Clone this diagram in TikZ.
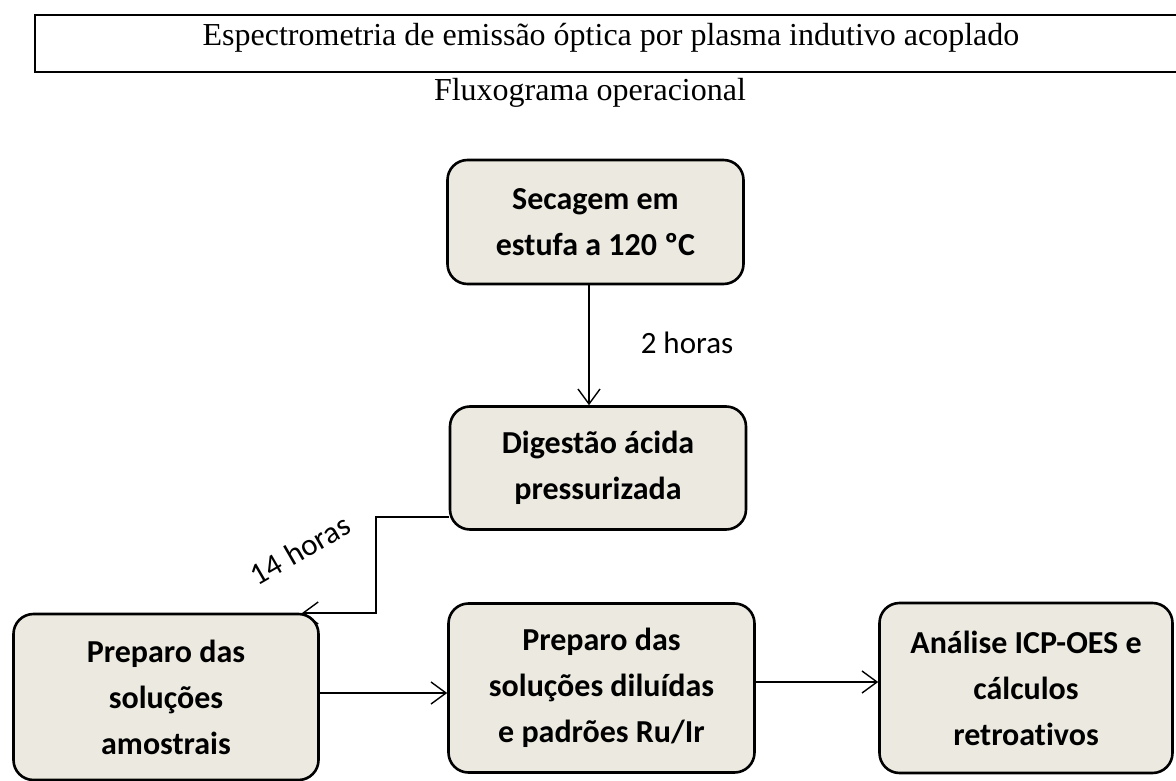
\documentclass[tikz,border=0pt]{standalone}
\usepackage{fontspec}
\setmainfont{Liberation Serif}
\newfontfamily\calibri[Ligatures=NoCommon]{Carlito}
\usetikzlibrary{arrows.meta}

\begin{document}
\begin{tikzpicture}[x=1pt,y=-1pt,
    etapa/.style={draw,line width=2.6pt,rounded corners=20pt,fill=boxfill,
      align=center,inner sep=0pt,
      font=\calibri\bfseries\fontsize{32}{46}\selectfont},
    seta/.style={line width=1.4pt,-{Straight Barb[length=15pt,width=22pt,line width=1.4pt]}},
    tempo/.style={font=\calibri\fontsize{31}{37}\selectfont,inner sep=0pt}]
      \definecolor{boxfill}{HTML}{ECEAE0}
      \clip (0,0) rectangle (1176,781) ;
      \draw[line width=2.2pt] (35,15) rectangle (1200,72) ;
      \node[font=\fontsize{32}{38}\selectfont] (titulo) at (611,38)
        {Espectrometria de emissão óptica por plasma indutivo acoplado} ;
      \node[font=\fontsize{32}{38}\selectfont] (sub) at (590,93) {Fluxograma operacional} ;
      \node[etapa,minimum width=296pt,minimum height=124pt] (sec) at (595.5,222)
        {Secagem em\\estufa a 120 ºC} ;
      \node[etapa,minimum width=296pt,minimum height=123pt] (dig) at (598,468)
        {Digestão ácida\\pressurizada} ;
      \node[etapa,minimum width=305pt,minimum height=166pt] (amo) at (166,697)
        {Preparo das\\soluções\\amostrais} ;
      \node[etapa,minimum width=306pt,minimum height=169pt] (dil) at (601.5,688)
        {Preparo das\\soluções diluídas\\e padrões Ru/Ir} ;
      \node[etapa,minimum width=293pt,minimum height=170pt] (icp) at (1026,688)
        {Análise ICP-OES e\\cálculos\\retroativos} ;
      \coordinate (c1) at (376,517) ;
      \coordinate (c2) at (302,613) ;
      \draw[seta] (sec.south -| 589,0) -- (dig.north -| 589,0) ;
      \node[tempo] (t2) at (687,343) {2 horas} ;
      \draw[seta] (dig.west |- c1) -- (c1) |- (c2) ;
      \node[tempo,rotate=30] (t14) at (300,550) {14\hspace{0.3em}horas} ;
      \draw[seta] (amo.east |- 0,693) -- (dil.west |- 0,693) ;
      \draw[seta] (dil.east |- 0,682) -- (icp.west |- 0,682) ;
    \end{tikzpicture}
\end{document}
